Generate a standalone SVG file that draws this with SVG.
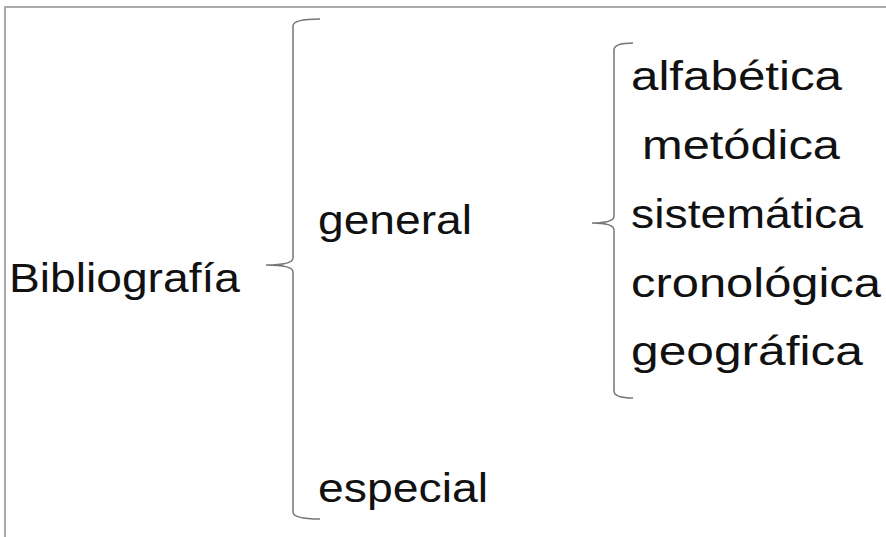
<svg xmlns="http://www.w3.org/2000/svg" width="886" height="537" viewBox="0 0 886 537">
<style>
.t{font-family:"Liberation Sans","DejaVu Sans",sans-serif;font-size:40px;fill:#111}
.br{fill:none;stroke:#777;stroke-width:1.5}
.frame{fill:none;stroke:#aaa;stroke-width:2}
</style>
<rect width="886" height="537" fill="#fff"/>
<path class="frame" d="M5,537 L5,7 L886,7"/>
<g id="connectors">
<path class="br" d="M320,19 Q293,19 293,26 L293,258 Q293,265 266,265 Q293,265 293,272 L293,512 Q293,519 320,519"/>
<path class="br" d="M633,43 Q614,43 614,50 L614,216 Q614,223 592,223 Q614,223 614,230 L614,391 Q614,398 633,398"/>
</g>
<g id="bibliografia"><text class="t" x="9" y="292" textLength="231" lengthAdjust="spacingAndGlyphs">Bibliografía</text></g>
<g id="general"><text class="t" x="318" y="234" textLength="154" lengthAdjust="spacingAndGlyphs">general</text></g>
<g id="especial"><text class="t" x="318" y="502" textLength="170" lengthAdjust="spacingAndGlyphs">especial</text></g>
<g id="alfabetica"><text class="t" x="631" y="90" textLength="211" lengthAdjust="spacingAndGlyphs">alfabética</text></g>
<g id="metodica"><text class="t" x="642" y="159" textLength="198" lengthAdjust="spacingAndGlyphs">metódica</text></g>
<g id="sistematica"><text class="t" x="631" y="228" textLength="232" lengthAdjust="spacingAndGlyphs">sistemática</text></g>
<g id="cronologica"><text class="t" x="631" y="297" textLength="250" lengthAdjust="spacingAndGlyphs">cronológica</text></g>
<g id="geografica"><text class="t" x="631" y="365" textLength="232" lengthAdjust="spacingAndGlyphs">geográfica</text></g>
</svg>
